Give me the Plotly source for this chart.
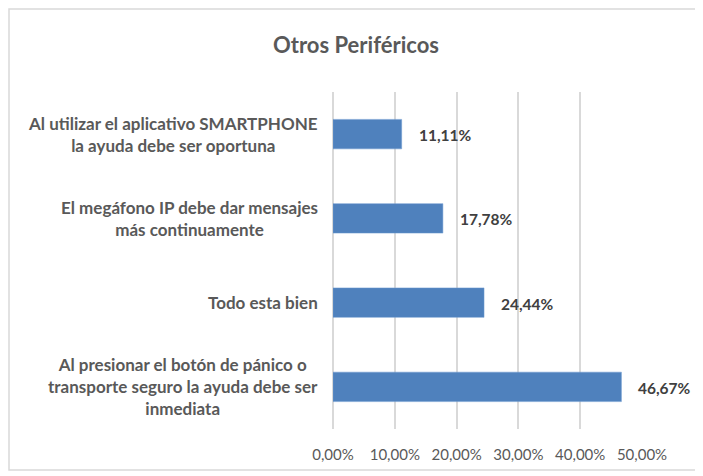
import plotly.graph_objects as go

categories = [
    "Al presionar el botón de pánico o<br>transporte seguro la ayuda debe ser<br>inmediata",
    "Todo esta bien",
    "El megáfono IP debe dar mensajes<br>más continuamente",
    "Al utilizar el aplicativo SMARTPHONE<br>la ayuda debe ser oportuna",
]
values = [0.4667, 0.2444, 0.1778, 0.1111]
tick_vals = [0, 0.1, 0.2, 0.3, 0.4, 0.5]
tick_text = ["0,00%", "10,00%", "20,00%", "30,00%", "40,00%", "50,00%"]

bar_color = "#4f81bd"
text_color = "#595959"
label_color = "#404040"
grid_color = "#d9d9d9"
font_family = "Lato, Open Sans, sans-serif"

# page body has an 8px margin, so the figure is drawn 8px in from the window edge
W, H = 695, 468
ml, mr, mt, mb = 325, 61, 84, 47

fig = go.Figure()

fig.add_trace(go.Bar(
    x=values,
    y=categories,
    orientation="h",
    marker=dict(color=bar_color, line=dict(color="#6f9bd1", width=0.5)),
    width=0.35,
    hoverinfo="skip",
))

# value labels to the right of each bar
for cat, v in zip(categories, values):
    fig.add_annotation(
        x=v, y=cat, xref="x", yref="y",
        text=f"<b>{v * 100:.2f}%</b>".replace(".", ","),
        showarrow=False, xanchor="left", xshift=15, yshift=-1,
        font=dict(family=font_family, size=15.5, color=label_color),
    )

# category labels, centered multi-line text like Excel
for cat in categories:
    fig.add_annotation(
        x=0, y=cat, xref="paper", yref="y",
        text=f"<b>{cat}</b>",
        showarrow=False, xanchor="right", align="center", xshift=-13,
        font=dict(family=font_family, size=17, color=text_color),
    )

pw = W - ml - mr
ph = H - mt - mb
# outer chart border
fig.add_shape(
    type="rect", xref="paper", yref="paper",
    x0=(1 - ml) / pw, x1=(693 - ml) / pw,
    y0=(H - mb - 462) / ph, y1=(H - mb - 1) / ph,
    line=dict(color="#d9d9d9", width=1.5), fillcolor="rgba(0,0,0,0)",
)

fig.update_layout(
    width=W, height=H,
    paper_bgcolor="white", plot_bgcolor="white",
    margin=dict(l=ml, r=mr, t=mt, b=mb),
    showlegend=False,
    bargap=0.65,
    title=dict(
        text="<b>Otros Periféricos</b>",
        x=348 / W, xanchor="center", y=1 - 37 / H, yanchor="middle",
        font=dict(family=font_family, size=22, color=text_color),
    ),
    xaxis=dict(
        range=[0, 0.5],
        tickvals=tick_vals, ticktext=tick_text,
        showgrid=True, gridcolor=grid_color, gridwidth=1.5,
        zeroline=True, zerolinecolor=grid_color, zerolinewidth=1.5,
        showline=False, ticks="",
        tickfont=dict(family=font_family, size=15, color=text_color),
        ticklabelstandoff=15,
        fixedrange=True,
    ),
    yaxis=dict(
        categoryorder="array", categoryarray=categories,
        showticklabels=False, showgrid=False, ticks="", showline=False,
        fixedrange=True,
    ),
)

fig.write_html("out.html")
